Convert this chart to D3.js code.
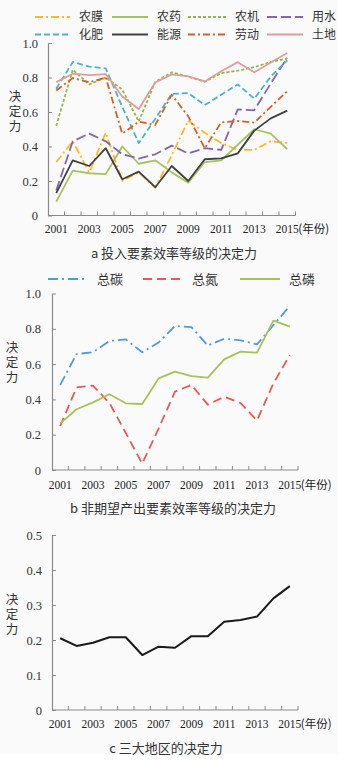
<!DOCTYPE html>
<html>
<head>
<meta charset="utf-8">
<script src="https://cdn.jsdelivr.net/npm/d3@7/dist/d3.min.js"></script>
<style>
  html, body { margin: 0; padding: 0; background: #fff; }
  svg { display: block; }
  .num { font-family: "Liberation Serif", "Times New Roman", "DejaVu Serif", serif; }
  .cjk { font-family: "Noto Sans CJK SC", "Noto Sans", sans-serif; }
  .vert { writing-mode: vertical-rl; letter-spacing: 2.5px; }
</style>
</head>
<body>
<svg id="chart" width="347" height="765"></svg>
<script>
// ---- data ----
const years = d3.range(2001, 2016);
const yearLabels = [2001, 2003, 2005, 2007, 2009, 2011, 2013, 2015];

// panel a: input factors
const nongmo   = [0.31, 0.43, 0.25, 0.48, 0.20, 0.25, 0.16, 0.35, 0.55, 0.48, 0.42, 0.38, 0.38, 0.43, 0.42];
const nongyao  = [0.08, 0.26, 0.245, 0.24, 0.40, 0.30, 0.32, 0.25, 0.19, 0.31, 0.32, 0.41, 0.50, 0.475, 0.385];
const nongji   = [0.52, 0.845, 0.76, 0.80, 0.73, 0.545, 0.775, 0.83, 0.805, 0.775, 0.825, 0.84, 0.86, 0.89, 0.91];
const yongshui = [0.145, 0.43, 0.475, 0.43, 0.355, 0.33, 0.355, 0.405, 0.36, 0.39, 0.38, 0.615, 0.61, 0.765, 0.915];
const huafei   = [0.735, 0.89, 0.863, 0.853, 0.63, 0.42, 0.56, 0.705, 0.71, 0.64, 0.70, 0.76, 0.677, 0.805, 0.90];
const nengyuan = [0.13, 0.32, 0.287, 0.39, 0.21, 0.254, 0.164, 0.287, 0.20, 0.326, 0.331, 0.36, 0.492, 0.563, 0.608];
const laodong  = [0.725, 0.797, 0.772, 0.80, 0.474, 0.544, 0.525, 0.70, 0.575, 0.39, 0.54, 0.548, 0.538, 0.63, 0.72];
const tudi     = [0.773, 0.822, 0.814, 0.82, 0.69, 0.617, 0.771, 0.818, 0.807, 0.777, 0.836, 0.889, 0.83, 0.887, 0.942];

// panel b: undesirable outputs
const zongtan = [0.482, 0.657, 0.667, 0.731, 0.74, 0.667, 0.722, 0.816, 0.81, 0.705, 0.744, 0.735, 0.712, 0.82, 0.93];
const zongdan = [0.249, 0.468, 0.478, 0.38, 0.21, 0.036, 0.235, 0.444, 0.482, 0.37, 0.415, 0.379, 0.28, 0.491, 0.65];
const zonglin = [0.264, 0.344, 0.383, 0.429, 0.378, 0.374, 0.519, 0.557, 0.532, 0.523, 0.627, 0.671, 0.665, 0.846, 0.812];

// panel c: three regions
const diqu = [0.205, 0.183, 0.192, 0.208, 0.208, 0.157, 0.181, 0.178, 0.211, 0.211, 0.252, 0.257, 0.267, 0.319, 0.354];

const seriesA = [
  { name: "农膜", values: nongmo,   color: "#FDB824", dash: "8,3,2,3" },
  { name: "农药", values: nongyao,  color: "#A5C35E", dash: null },
  { name: "农机", values: nongji,   color: "#93B44F", dash: "3,2" },
  { name: "用水", values: yongshui, color: "#8466AD", dash: "10,4" },
  { name: "化肥", values: huafei,   color: "#4BB3CC", dash: "6,3" },
  { name: "能源", values: nengyuan, color: "#404040", dash: null },
  { name: "劳动", values: laodong,  color: "#D2621E", dash: "7,3,2,3" },
  { name: "土地", values: tudi,     color: "#E39C9C", dash: null }
];
const seriesB = [
  { name: "总碳", values: zongtan, color: "#5599D6", dash: "10,4,2,4" },
  { name: "总氮", values: zongdan, color: "#E45A5A", dash: "9,5" },
  { name: "总磷", values: zonglin, color: "#A8C256", dash: null }
];
const seriesC = [
  { name: "三大地区", values: diqu, color: "#1a1a1a", dash: null }
];

const svg = d3.select("#chart");

svg.append("rect").attr("x", 0).attr("y", 0).attr("width", 338).attr("height", 754).attr("fill", "#fafafa");

function panel(cfg) {
  const x = d3.scaleBand().domain(years).range([cfg.left, cfg.right]).padding(0);
  const cx = d => x(d) + x.bandwidth() / 2;
  const y = d3.scaleLinear().domain([0, cfg.ymax]).range([cfg.bottom, cfg.top]);
  const g = svg.append("g");

  // y axis, ticks pointing inward
  const yAxis = d3.axisLeft(y)
    .tickValues(d3.range(0, cfg.ymax + 1e-9, cfg.step))
    .tickSizeInner(-4).tickSizeOuter(0).tickPadding(cfg.tickPad)
    .tickFormat(d => Math.abs(d) < 1e-9 ? "0" : d3.format(".1f")(d));
  const ya = g.append("g").attr("transform", `translate(${cfg.left},0)`).call(yAxis)
    .attr("font-family", null).attr("font-size", null);
  ya.select(".domain").attr("stroke", "#8a8a8a").attr("stroke-width", 1.2);
  ya.selectAll(".tick line").attr("stroke", "#8a8a8a");
  ya.selectAll(".tick text").attr("class", "num").style("font-size", "12.5px").attr("fill", "#333");

  // x axis with ticks at category boundaries, pointing up
  g.append("line").attr("x1", cfg.left).attr("x2", cfg.right)
    .attr("y1", cfg.bottom).attr("y2", cfg.bottom)
    .attr("stroke", "#8a8a8a").attr("stroke-width", 1.2);
  g.selectAll(".xt").data(years.slice(1).concat([null])).join("line")
    .attr("x1", d => d === null ? cfg.right : x(d))
    .attr("x2", d => d === null ? cfg.right : x(d))
    .attr("y1", cfg.bottom).attr("y2", cfg.bottom - 4)
    .attr("stroke", "#8a8a8a");
  g.selectAll(".xl").data(yearLabels).join("text")
    .attr("class", "num")
    .attr("x", d => cx(d)).attr("y", cfg.bottom + cfg.labelDy)
    .attr("text-anchor", "middle").style("font-size", "11.5px")
    .attr("fill", "#222").text(d => d);
  g.append("text").attr("class", "cjk")
    .attr("x", cx(2015) + 11).attr("y", cfg.bottom + cfg.labelDy)
    .style("font-size", "11.5px").attr("fill", "#222")
    .text("(年份)");

  // vertical axis title
  g.append("text")
    .attr("class", "cjk vert")
    .attr("x", cfg.ytX).attr("y", cfg.ytY)
    .style("font-size", "12.5px")
    .attr("fill", "#333").text("决定力");

  // series lines
  const line = d3.line().x((d, i) => cx(years[i])).y(d => y(d));
  cfg.series.forEach(s => {
    g.append("path").datum(s.values)
      .attr("d", line).attr("fill", "none")
      .attr("stroke", s.color).attr("stroke-width", cfg.lw)
      .attr("stroke-dasharray", s.dash)
      .attr("stroke-linejoin", "round");
  });

  // caption
  g.append("text").attr("class", "cjk").attr("x", cfg.capX).attr("y", cfg.capY)
    .attr("text-anchor", "middle").style("font-size", "13px")
    .attr("fill", "#333").text(cfg.caption);
}

// legend laid out in a grid of columns and rows
function legend(items, cols, rows, fontSize) {
  const nCols = cols.length;
  items.forEach((s, i) => {
    const c = cols[i % nCols], yy = rows[Math.floor(i / nCols)];
    svg.append("line").attr("x1", c[0]).attr("x2", c[1]).attr("y1", yy).attr("y2", yy)
      .attr("stroke", s.color).attr("stroke-width", 1.8).attr("stroke-dasharray", s.dash);
    svg.append("text").attr("class", "cjk").attr("x", c[1] + 9).attr("y", yy + fontSize * 0.35)
      .style("font-size", fontSize + "px").attr("fill", "#333").text(s.name);
  });
}

legend(seriesA, [[35, 70], [112, 148], [188, 226], [267, 303]], [17, 34.5], 12);
legend(seriesB, [[48, 88], [143, 183], [240, 280]], [279], 13);

panel({ series: seriesA, left: 48, right: 295.5, top: 43, bottom: 215.5, ymax: 1.0, step: 0.2,
        tickPad: 10, labelDy: 17, ytX: 15, ytY: 90, lw: 1.8,
        caption: "a 投入要素效率等级的决定力", capX: 174, capY: 258 });
panel({ series: seriesB, left: 52, right: 298, top: 293.5, bottom: 470, ymax: 1.0, step: 0.2,
        tickPad: 11, labelDy: 19, ytX: 12, ytY: 341, lw: 1.8,
        caption: "b 非期望产出要素效率等级的决定力", capX: 173, capY: 513 });
panel({ series: seriesC, left: 52, right: 298, top: 535, bottom: 710, ymax: 0.5, step: 0.1,
        tickPad: 10, labelDy: 18, ytX: 12, ytY: 593, lw: 2,
        caption: "c 三大地区的决定力", capX: 166, capY: 753 });
</script>
</body>
</html>
